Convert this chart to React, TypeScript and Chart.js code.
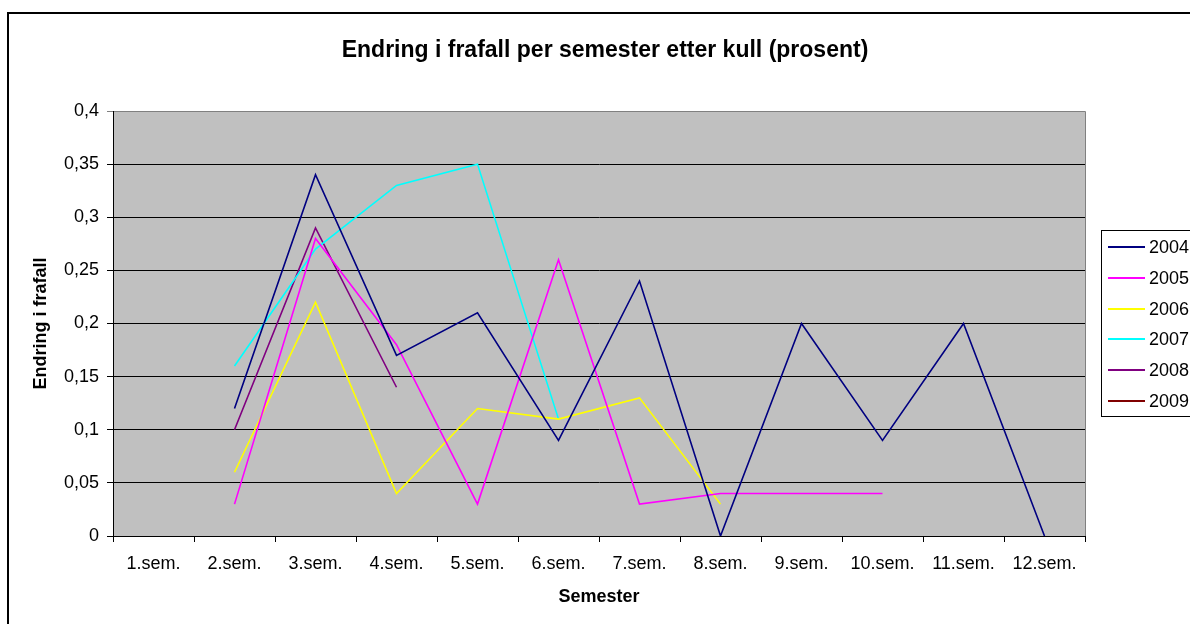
import React, { useEffect, useRef } from "react";
import { Chart, registerables } from "chart.js";

Chart.register(...registerables);

const semesters = ["1.sem.", "2.sem.", "3.sem.", "4.sem.", "5.sem.", "6.sem.", "7.sem.", "8.sem.", "9.sem.", "10.sem.", "11.sem.", "12.sem."];
const kull2004 = [null, 0.12, 0.34, 0.17, 0.21, 0.09, 0.24, 0, 0.2, 0.09, 0.2, 0];
const kull2005 = [null, 0.03, 0.28, 0.18, 0.03, 0.26, 0.03, 0.04, 0.04, 0.04, null, null];
const kull2006 = [null, 0.06, 0.22, 0.04, 0.12, 0.11, 0.13, 0.03, null, null, null, null];
const kull2007 = [null, 0.16, 0.27, 0.33, 0.35, 0.11, null, null, null, null, null, null];
const kull2008 = [null, 0.1, 0.29, 0.14, null, null, null, null, null, null, null, null];
const kull2009 = [null, 0.1, null, null, null, null, null, null, null, null, null, null];
const seriesNames = ["2004", "2005", "2006", "2007", "2008", "2009"];
const seriesColors = ["#000080", "#FF00FF", "#FFFF00", "#00FFFF", "#800080", "#800000"];
const yTicks = [0, 0.05, 0.1, 0.15, 0.2, 0.25, 0.3, 0.35, 0.4];

const FONT = "Arial, 'Liberation Sans', sans-serif";
const W = 1190;
const H = 624;

const decor = {
  id: "decor",
  beforeDraw(chart: any) {
    const { ctx, chartArea: a } = chart;
    ctx.save();
    ctx.fillStyle = "#ffffff";
    ctx.fillRect(0, 0, W, H);
    ctx.strokeStyle = "#000000";
    ctx.lineWidth = 2;
    ctx.strokeRect(8, 13, 1400, 900);
    ctx.fillStyle = "#C0C0C0";
    ctx.fillRect(a.left, a.top, a.right - a.left, a.bottom - a.top);
    ctx.strokeStyle = "#808080";
    ctx.lineWidth = 1;
    ctx.beginPath();
    ctx.moveTo(a.left, a.top + 0.5);
    ctx.lineTo(a.right + 0.5, a.top + 0.5);
    ctx.lineTo(a.right + 0.5, a.bottom);
    ctx.stroke();
    ctx.restore();
  },
  afterDraw(chart: any) {
    const { ctx } = chart;
    ctx.save();
    ctx.fillStyle = "#000";
    ctx.font = `bold 23px ${FONT}`;
    ctx.textAlign = "center";
    ctx.textBaseline = "alphabetic";
    ctx.fillText("Endring i frafall per semester etter kull (prosent)", 605, 57);
    // legend
    ctx.strokeStyle = "#000";
    ctx.lineWidth = 1;
    ctx.strokeRect(1101.5, 230.5, 200, 186);
    ctx.font = `18px ${FONT}`;
    ctx.textAlign = "left";
    ctx.textBaseline = "middle";
    chart.data.datasets.forEach((ds: any, i: number) => {
      const y = Math.round(247 + i * 30.8);
      ctx.strokeStyle = ds.borderColor;
      ctx.lineWidth = 2;
      ctx.beginPath();
      ctx.moveTo(1108, y);
      ctx.lineTo(1145, y);
      ctx.stroke();
      ctx.fillStyle = "#000";
      ctx.fillText(ds.label, 1149, y + 1);
    });
    ctx.restore();
  },
};

export default function App() {
  const ref = useRef<HTMLCanvasElement | null>(null);
  useEffect(() => {
    const all = [kull2004, kull2005, kull2006, kull2007, kull2008, kull2009];
    const chart = new Chart(ref.current as HTMLCanvasElement, {
      type: "line",
      data: {
        labels: semesters,
        datasets: all.map((d, i) => ({
          label: seriesNames[i],
          data: d,
          borderColor: seriesColors[i],
          backgroundColor: seriesColors[i],
          borderWidth: 1.6,
          pointRadius: 0,
          tension: 0,
          spanGaps: false,
        })),
      },
      options: {
        responsive: false,
        animation: false,
        layout: { padding: { left: 20, top: 111, right: 105, bottom: 0 } },
        plugins: { legend: { display: false }, title: { display: false }, tooltip: { enabled: false } },
        scales: {
          x: {
            type: "category",
            offset: true,
            grid: { offset: true, drawOnChartArea: false, drawTicks: true, tickLength: 6, color: "#000" },
            border: { color: "#000", width: 1 },
            ticks: { color: "#000", font: { family: FONT, size: 18 }, padding: 11, maxRotation: 0, autoSkip: false },
            title: { display: true, text: "Semester", color: "#000", font: { family: FONT, size: 18, weight: "bold" }, padding: { top: 0, bottom: 16 } },
            afterFit: (s: any) => { s.height = 88; },
          },
          y: {
            min: 0,
            max: 0.4,
            afterBuildTicks: (s: any) => { s.ticks = yTicks.map((v) => ({ value: v })); },
            grid: {
              color: (c: any) => (c.tick && c.tick.value === 0.4 ? "#808080" : "#000"),
              tickLength: 6,
              drawTicks: true,
            },
            border: { color: "#000", width: 1 },
            ticks: {
              color: "#000",
              font: { family: FONT, size: 18 },
              padding: 8,
              callback: (v: any) => Number(Number(v).toFixed(2)).toString().replace(".", ","),
            },
            title: { display: true, text: "Endring i frafall", color: "#000", font: { family: FONT, size: 18, weight: "bold" }, padding: { top: 10, bottom: 0 } },
            afterFit: (s: any) => { s.width = 93; },
          },
        },
      },
      plugins: [decor],
    });
    return () => chart.destroy();
  }, []);
  return (
    <div style={{ position: "fixed", left: 0, top: 0, width: W, height: H }}>
      <canvas ref={ref} width={W} height={H} style={{ width: W, height: H, display: "block" }} />
    </div>
  );
}
